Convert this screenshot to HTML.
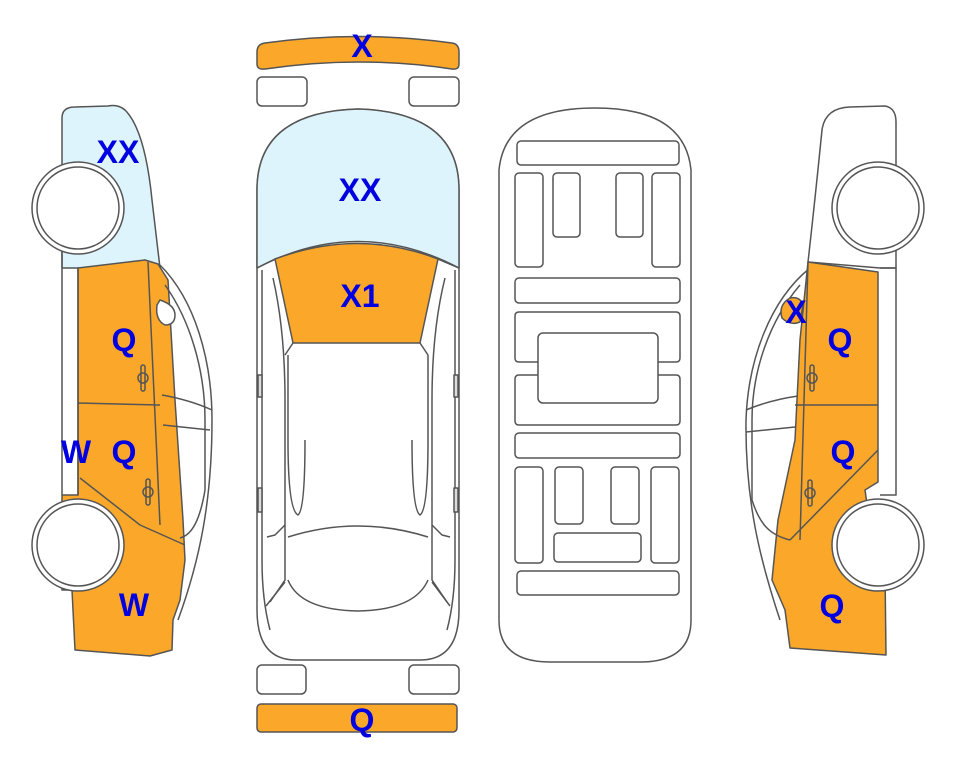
<!DOCTYPE html>
<html><head><meta charset="utf-8"><style>
html,body{margin:0;padding:0;background:#fff;width:963px;height:768px;overflow:hidden}
svg{display:block}
text{font-family:"Liberation Sans",Arial,sans-serif;font-weight:bold;fill:#0000e0;font-size:32px;text-anchor:middle}
</style></head><body>
<svg width="963" height="768" viewBox="0 0 963 768" xmlns="http://www.w3.org/2000/svg">
<g stroke="#555" stroke-width="1.5" fill="none" stroke-linejoin="round">

<!-- ===== CENTER CAR ===== -->
<path d="M257,52 Q257,44 265,43 Q360,30 452,43 Q459,44 459,52 L459,64 Q459,70 452,69 Q360,55 265,69 Q257,70 257,64 Z" fill="#FBA82A"/>
<rect x="257" y="77" width="50" height="29" rx="5" fill="#fff"/>
<rect x="409" y="77" width="50" height="29" rx="5" fill="#fff"/>
<path d="M257,190 Q257,112 358,109 Q459,112 459,190 L459,610 Q459,660 420,660 L296,660 Q257,660 257,610 Z" fill="#fff"/>
<path d="M257,190 Q257,112 358,109 Q459,112 459,190 L459,268 Q358,215 257,268 Z" fill="#DDF4FC"/>
<path d="M275,259 Q358,228 438,259 L420,343 L293,343 Z" fill="#FBA82A"/>
<path d="M257,268 L275,259 M459,268 L438,259"/>
<path d="M293,343 L285,355 M420,343 L428,355"/>
<path d="M262,270 L262,560 Q262,600 270,630"/>
<path d="M273,278 Q285,330 285,400 L285,580 L270,602"/>
<path d="M445,278 Q432,330 432,400 L432,580 L447,602"/>
<path d="M455,270 L455,560 Q455,600 447,630"/>
<path d="M288,355 L288,440 Q288,510 298,515 Q305,510 305,440"/>
<path d="M428,355 L428,440 Q428,510 420,515 Q412,510 412,440"/>
<path d="M285,525 L275,535 L267,537 M432,525 L442,535 L450,537"/>
<path d="M288,537 Q358,515 428,537"/>
<path d="M288,580 Q300,610 358,611 Q415,610 428,580"/>
<path d="M266,606 L285,582 M450,606 L432,582"/>
<rect x="258" y="375" width="4" height="22" fill="#ddd"/>
<rect x="454" y="375" width="4" height="22" fill="#ddd"/>
<rect x="258" y="488" width="4" height="24" fill="#ddd"/>
<rect x="454" y="488" width="4" height="24" fill="#ddd"/>
<rect x="257" y="665" width="49" height="29" rx="5" fill="#fff"/>
<rect x="409" y="665" width="50" height="29" rx="5" fill="#fff"/>
<rect x="257" y="704" width="200" height="28" rx="4" fill="#FBA82A"/>

<!-- ===== TOP VIEW ===== -->
<path d="M499,170 Q505,108 595,108 Q685,108 691,170 L691,620 Q691,662 640,662 L550,662 Q499,662 499,620 Z" fill="#fff"/>
<rect x="517" y="141" width="162" height="24" rx="4"/>
<rect x="515" y="173" width="28" height="94" rx="4"/>
<rect x="553" y="173" width="27" height="64" rx="4"/>
<rect x="616" y="173" width="27" height="64" rx="4"/>
<rect x="652" y="173" width="28" height="94" rx="4"/>
<rect x="515" y="278" width="165" height="25" rx="4"/>
<path d="M538,362 L519,362 Q515,362 515,358 L515,316 Q515,312 519,312 L676,312 Q680,312 680,316 L680,358 Q680,362 676,362 L658,362"/>
<path d="M538,375 L519,375 Q515,375 515,379 L515,421 Q515,425 519,425 L676,425 Q680,425 680,421 L680,379 Q680,375 676,375 L658,375"/>
<rect x="538" y="333" width="120" height="70" rx="5" fill="#fff"/>
<rect x="515" y="433" width="165" height="25" rx="4"/>
<rect x="515" y="467" width="28" height="96" rx="4"/>
<rect x="555" y="467" width="28" height="57" rx="4"/>
<rect x="611" y="467" width="28" height="57" rx="4"/>
<rect x="651" y="467" width="28" height="96" rx="4"/>
<rect x="554" y="533" width="87" height="29" rx="4"/>
<rect x="517" y="571" width="162" height="24" rx="4"/>

<!-- ===== LEFT SIDE CAR ===== -->
<path d="M160,265 C195,300 212,360 212,420 C212,500 200,560 178,620" fill="#fff"/>
<path d="M62,118 Q62,107 75,107 L108,106 Q118,104 125,110 Q145,130 152,200 L160,268 L62,268 Z" fill="#DDF4FC"/>
<path d="M62,250 L62,495 L78,495 L78,268 L145,260 L158,264 L168,280 L175,400 L183,520 L185,560 L180,600 L173,620 L172,650 L150,656 L75,650 L72,590 L62,590 Z" fill="#FBA82A"/>
<path d="M78,268 L78,495 M148,262 L160,525 M78,403 L160,405 M80,478 L140,525 L185,545"/>
<path d="M165,285 C190,320 205,370 205,420 L205,490 C200,520 192,535 180,538"/>
<path d="M162,395 Q190,400 212,410 M163,425 L210,430"/>
<path d="M160,300 Q175,305 175,315 Q175,325 165,325 Q155,320 157,305 Z" fill="#fff"/>
<rect x="141" y="365" width="4" height="26" rx="2"/><circle cx="143" cy="378" r="5"/>
<rect x="146" y="479" width="4" height="26" rx="2"/><circle cx="148" cy="492" r="5"/>
<circle cx="78" cy="208" r="46" fill="#fff"/>
<circle cx="78" cy="208" r="41" fill="#fff"/>
<circle cx="78" cy="545" r="46" fill="#fff"/>
<circle cx="78" cy="545" r="41" fill="#fff"/>

<!-- ===== RIGHT SIDE CAR ===== -->
<path d="M810,268 C770,300 748,360 746,420 C745,500 760,560 780,620" fill="#fff"/>
<path d="M822,130 Q825,108 850,107 L885,106 Q896,108 896,122 L896,268 L880,268 L808,262 Q815,200 822,130 Z" fill="#fff"/>
<path d="M880,268 L896,268 L896,495 L880,495"/>
<path d="M808,262 L878,272 L878,482 L865,490 L875,560 L885,570 L886,655 L790,648 L785,610 L772,580 L778,520 L795,440 L800,340 Z" fill="#FBA82A"/>
<path d="M808,262 L800,540 M795,405 L878,405 M878,450 L790,540"/>
<path d="M800,285 C770,320 752,370 752,420 L752,500 C760,525 770,535 790,540"/>
<path d="M798,396 Q770,400 746,410 M795,427 L746,432"/>
<path d="M790,298 Q800,296 803,305 L800,322 Q790,326 782,318 Q778,305 790,298 Z" fill="#FBA82A"/>
<rect x="810" y="365" width="4" height="26" rx="2"/><circle cx="812" cy="378" r="5"/>
<rect x="808" y="480" width="4" height="26" rx="2"/><circle cx="810" cy="493" r="5"/>
<circle cx="878" cy="208" r="46" fill="#fff"/>
<circle cx="878" cy="208" r="41" fill="#fff"/>
<circle cx="878" cy="545" r="46" fill="#fff"/>
<circle cx="878" cy="545" r="41" fill="#fff"/>
</g>

<text x="362" y="57">X</text>
<text x="360" y="201">XX</text>
<text x="360" y="307">X1</text>
<text x="362" y="731">Q</text>
<text x="118" y="163">XX</text>
<text x="124" y="351">Q</text>
<text x="76" y="463">W</text>
<text x="124" y="463">Q</text>
<text x="134" y="616">W</text>
<text x="796" y="323">X</text>
<text x="840" y="351">Q</text>
<text x="843" y="463">Q</text>
<text x="832" y="617">Q</text>
</svg>
</body></html>
